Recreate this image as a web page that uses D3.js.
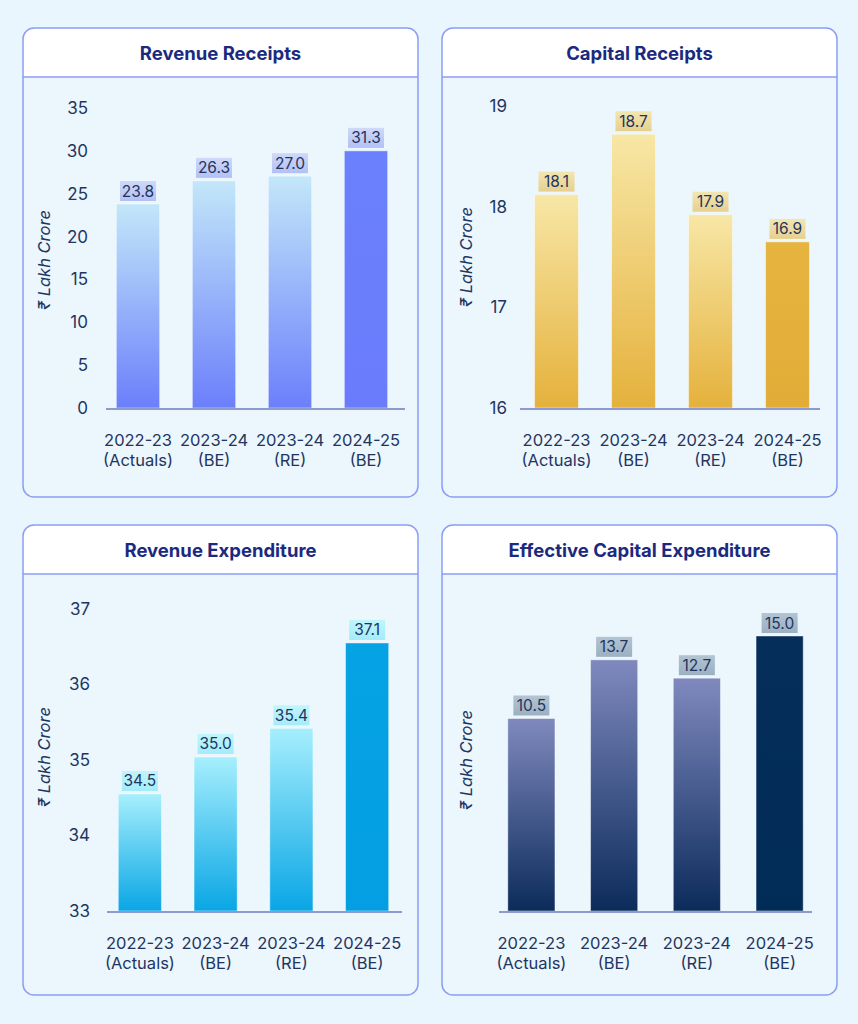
<!DOCTYPE html>
<html>
<head>
<meta charset="utf-8">
<script src="https://cdn.jsdelivr.net/npm/d3@7"></script>
<style>
  body { margin: 0; background: #eaf6fd; }
  svg { display: block; font-family: Inter, "Noto Sans", sans-serif; }
</style>
</head>
<body>
<svg id="chart" width="858" height="1024"></svg>
<script>
// categories (two lines each)
var catYears = ["2022-23", "2023-24", "2023-24", "2024-25"];
var catTypes = ["(Actuals)", "(BE)", "(RE)", "(BE)"];

// Revenue Receipts
var revRecLabels = ["23.8", "26.3", "27.0", "31.3"];
var revRecBars = [23.8, 26.5, 27.05, 30.0];
var revRecTicks = [0, 5, 10, 15, 20, 25, 30, 35];

// Capital Receipts
var capRecLabels = ["18.1", "18.7", "17.9", "16.9"];
var capRecBars = [18.12, 18.72, 17.92, 17.65];
var capRecTicks = [16, 17, 18, 19];

// Revenue Expenditure
var revExpLabels = ["34.5", "35.0", "35.4", "37.1"];
var revExpBars = [34.55, 35.04, 35.42, 36.55];
var revExpTicks = [33, 34, 35, 36, 37];

// Effective Capital Expenditure (no axis shown)
var effCapLabels = ["10.5", "13.7", "12.7", "15.0"];
var effCapBars = [10.5, 13.7, 12.7, 15.0];
var effCapTicks = [];

var svg = d3.select("#chart");
var defs = svg.append("defs");
var textCol = "#1f3560";

function grad(id, top, bottom) {
  var g = defs.append("linearGradient").attr("id", id)
    .attr("x1", 0).attr("y1", 0).attr("x2", 0).attr("y2", 1);
  g.append("stop").attr("offset", "0%").attr("stop-color", top);
  g.append("stop").attr("offset", "100%").attr("stop-color", bottom);
}

function drawPanel(p) {
  var g = svg.append("g");
  var x0 = p.box[0], y0 = p.box[1], w = p.box[2], h = p.box[3], r = 11;

  // panel body + header
  g.append("rect").attr("x", x0).attr("y", y0).attr("width", w).attr("height", h)
    .attr("rx", r).attr("fill", "#ebf6fd");
  var hh = 49;
  g.append("path")
    .attr("d", `M${x0},${y0 + hh} V${y0 + r} Q${x0},${y0} ${x0 + r},${y0} H${x0 + w - r} Q${x0 + w},${y0} ${x0 + w},${y0 + r} V${y0 + hh} Z`)
    .attr("fill", "#ffffff");
  g.append("line").attr("x1", x0).attr("x2", x0 + w).attr("y1", y0 + hh).attr("y2", y0 + hh)
    .attr("stroke", "#8c9df4").attr("stroke-width", 1.5);
  g.append("rect").attr("x", x0).attr("y", y0).attr("width", w).attr("height", h)
    .attr("rx", r).attr("fill", "none").attr("stroke", "#8c9df4").attr("stroke-width", 1.5);

  g.append("text").attr("x", x0 + w / 2).attr("y", y0 + 32)
    .attr("text-anchor", "middle").attr("font-size", 18.5).attr("font-weight", 700)
    .attr("fill", "#1b2a80").text(p.title);

  var x = d3.scaleBand().domain(d3.range(4)).range(p.xr)
    .paddingInner(0.43).paddingOuter(0.215);
  var y = d3.scaleLinear().domain(p.domain).range(p.yr);

  // y axis tick labels (no line)
  var ax = g.append("g").attr("transform", `translate(${p.tickX},0)`)
    .call(d3.axisLeft(y).tickValues(p.ticks).tickFormat(d3.format("d"))
      .tickSize(0).tickPadding(0));
  ax.select(".domain").remove();
  ax.selectAll("text").attr("font-size", 17).attr("fill", textCol)
    .attr("font-family", "Inter, 'Noto Sans', sans-serif");

  // y title
  g.append("text")
    .attr("transform", `translate(${p.titleX},${p.titleY}) rotate(-90)`)
    .attr("text-anchor", "middle").attr("font-size", 16.5).attr("font-style", "italic")
    .attr("fill", textCol).text("₹ Lakh Crore");

  grad(p.id + "-bar", p.barTop, p.barBottom);
  grad(p.id + "-last", p.lastTop, p.lastBottom);
  grad(p.id + "-lab", p.labTop, p.labBottom);

  g.selectAll(".bar").data(p.bars).enter().append("rect")
    .attr("x", (d, i) => x(i))
    .attr("y", d => y(d))
    .attr("width", x.bandwidth())
    .attr("height", d => p.yr[0] - y(d))
    .attr("fill", (d, i) => i === 3 ? `url(#${p.id}-last)` : `url(#${p.id}-bar)`)
    .attr("stroke", "rgba(255,255,255,0.45)").attr("stroke-width", 1);

  // baseline
  g.append("line").attr("x1", p.axisX[0]).attr("x2", p.axisX[1])
    .attr("y1", p.yr[0] + 1).attr("y2", p.yr[0] + 1)
    .attr("stroke", "#8e99d2").attr("stroke-width", 2);

  // value labels with tinted boxes
  var lab = g.selectAll(".lab").data(p.bars).enter().append("g")
    .attr("transform", (d, i) => `translate(${x(i) + x.bandwidth() / 2},${y(d) - 3})`);
  lab.append("rect").attr("x", -18).attr("y", -20).attr("width", 36).attr("height", 20)
    .attr("fill", `url(#${p.id}-lab)`);
  lab.append("text").attr("y", -4.5).attr("text-anchor", "middle")
    .attr("font-size", 15.5).attr("fill", textCol)
    .text((d, i) => p.labels[i]);

  // category labels
  var cat = g.selectAll(".cat").data(catYears).enter().append("text")
    .attr("text-anchor", "middle").attr("font-size", 16.5).attr("fill", textCol)
    .attr("transform", (d, i) => `translate(${x(i) + x.bandwidth() / 2},${p.yr[0] + 38})`);
  cat.append("tspan").attr("x", 0).attr("y", 0).text(d => d);
  cat.append("tspan").attr("x", 0).attr("y", 20).text((d, i) => catTypes[i]);
}

drawPanel({
  id: "rr", title: "Revenue Receipts", box: [23, 28, 395, 469],
  labels: revRecLabels, bars: revRecBars, ticks: revRecTicks,
  domain: [0, 35], yr: [408, 108], xr: [100, 404], axisX: [106, 405],
  tickX: 88, titleX: 50, titleY: 260,
  barTop: "#c3e7f9", barBottom: "#6b7ffb", lastTop: "#6a80fc", lastBottom: "#6a7cfb",
  labTop: "#cfd9f8", labBottom: "#b3c0f4"
});
drawPanel({
  id: "cr", title: "Capital Receipts", box: [442, 28, 395, 469],
  labels: capRecLabels, bars: capRecBars, ticks: capRecTicks,
  domain: [16, 19], yr: [408, 106], xr: [518, 826], axisX: [520, 820],
  tickX: 507, titleX: 472, titleY: 257,
  barTop: "#f7e7a6", barBottom: "#e5b13c", lastTop: "#e6b43f", lastBottom: "#e2ad37",
  labTop: "#f3e6b2", labBottom: "#e6d08e"
});
drawPanel({
  id: "re", title: "Revenue Expenditure", box: [23, 525, 395, 470],
  labels: revExpLabels, bars: revExpBars, ticks: revExpTicks,
  domain: [33, 37], yr: [911, 609], xr: [102, 405], axisX: [107, 402],
  tickX: 90, titleX: 50, titleY: 757,
  barTop: "#a6effd", barBottom: "#09a6e5", lastTop: "#05a2e4", lastBottom: "#039fe2",
  labTop: "#c0f5fd", labBottom: "#a3ecfa"
});
drawPanel({
  id: "ec", title: "Effective Capital Expenditure", box: [442, 525, 395, 470],
  labels: effCapLabels, bars: effCapBars, ticks: effCapTicks,
  domain: [0, 15], yr: [911, 636], xr: [490, 821], axisX: [499, 812],
  tickX: 500, titleX: 472, titleY: 760,
  barTop: "#8089be", barBottom: "#0b2b5b", lastTop: "#052e5b", lastBottom: "#022c58",
  labTop: "#b3c4d2", labBottom: "#9bb0c2"
});
</script>
</body>
</html>
